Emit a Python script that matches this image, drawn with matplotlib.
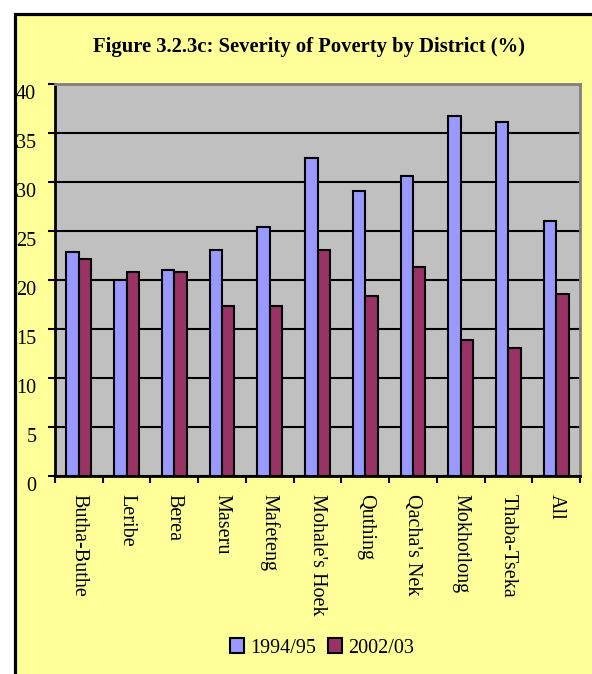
import numpy as np
import matplotlib.pyplot as plt
from matplotlib.patches import Rectangle
from matplotlib.transforms import ScaledTranslation

# districts and severity of poverty values (%)
districts = ['Butha-Buthe', 'Leribe', 'Berea', 'Maseru', 'Mafeteng',
             "Mohale's Hoek", 'Quthing', "Qacha's Nek", 'Mokhotlong',
             'Thaba-Tseka', 'All']
sev_1994 = [22.9, 20.0, 21.0, 23.1, 25.4, 32.5, 29.1, 30.6, 36.7, 36.1, 26.0]
sev_2002 = [22.1, 20.8, 20.8, 17.3, 17.3, 23.1, 18.4, 21.3, 13.9, 13.1, 18.6]
series_names = ['1994/95', '2002/03']
yticks = [0, 5, 10, 15, 20, 25, 30, 35, 40]

W, H = 592, 674


def main():
    plt.rcParams['font.family'] = ['Liberation Serif', 'DejaVu Serif']

    fig = plt.figure(figsize=(W / 100, H / 100), dpi=100)
    fig.patch.set_facecolor('white')

    # yellow chart area with black frame (runs off the right/bottom edge)
    frame = Rectangle((14.5 / W, -0.05), 1.1, 1 - 13.5 / H + 0.05,
                      transform=fig.transFigure, facecolor='#FFFF99',
                      edgecolor='black', linewidth=2.3, zorder=-10)
    fig.patches.append(frame)

    fig.text(309 / W, 1 - 47 / H,
             'Figure 3.2.3c: Severity of Poverty by District (%)',
             ha='center', va='center', fontsize=14.9, fontweight='bold')

    ax = fig.add_axes([55 / W, 1 - 476 / H, 525 / W, 392 / H])
    ax.set_facecolor('#C0C0C0')

    x = np.arange(len(districts))
    bw = 0.26
    b1 = ax.bar(x - bw / 2, sev_1994, bw, color='#9999FF',
                edgecolor='black', linewidth=1.5, zorder=3,
                label=series_names[0])
    b2 = ax.bar(x + bw / 2, sev_2002, bw, color='#993366',
                edgecolor='black', linewidth=1.5, zorder=3,
                label=series_names[1])

    ax.set_xlim(-0.5, len(districts) - 0.5)
    ax.set_ylim(0, 40)
    ax.set_yticks(yticks)
    ax.yaxis.grid(True, color='black', linewidth=1.5, zorder=1)
    ax.set_axisbelow(True)

    ax.set_xticks(np.arange(len(districts) + 1) - 0.5, minor=False)
    ax.set_xticklabels([])
    ax.set_xticks(x, minor=True)
    ax.set_xticklabels(districts, minor=True, rotation=-90,
                       fontsize=14.5, va='top', ha='center')
    ax.tick_params(axis='x', which='major', direction='out', length=5,
                   width=1.5)
    ax.tick_params(axis='x', which='minor', length=0, pad=13)
    ax.tick_params(axis='y', direction='out', length=5, width=1.5,
                   labelsize=14.5, pad=8.5)
    # Excel places the value labels slightly below their gridline
    shift = ScaledTranslation(0, -8 / 100, fig.dpi_scale_trans)
    for lab in ax.get_yticklabels():
        lab.set_transform(lab.get_transform() + shift)

    for side in ['left', 'bottom']:
        ax.spines[side].set_linewidth(2)
        ax.spines[side].set_color('black')
    for side in ['top', 'right']:
        ax.spines[side].set_linewidth(2)
        ax.spines[side].set_color('#808080')

    fig.legend(handles=[b1, b2], labels=series_names, loc='center',
               bbox_to_anchor=(322 / W, 1 - 648 / H), ncol=2,
               frameon=False, fontsize=14.5, handlelength=0.7,
               handleheight=0.7, handletextpad=0.3, columnspacing=0.6)

    fig.savefig('out.png', dpi=100, facecolor=fig.get_facecolor())


if __name__ == '__main__':
    main()
